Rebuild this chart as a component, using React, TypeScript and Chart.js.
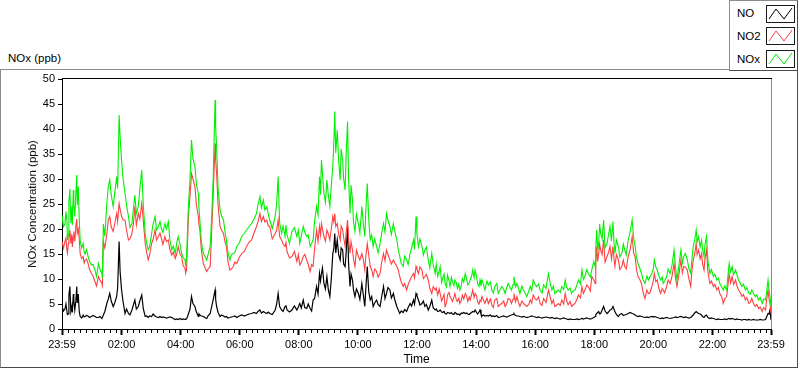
import React, { useEffect, useRef } from "react";
import { Chart, registerables } from "chart.js";

Chart.register(...registerables);

// minutes elapsed since 23:59 (start of record)
const timeMin = [
  0, 3, 6, 8, 10, 11, 13, 14, 16, 18,
  20, 21, 23, 24, 26, 28, 30, 31, 33, 35,
  37, 40, 43, 45, 47, 50, 53, 56, 60, 63,
  67, 70, 74, 77, 81, 82, 84, 87, 91, 94,
  97, 100, 104, 107, 111, 113, 116, 118, 121, 124,
  128, 131, 135, 138, 142, 145, 148, 151, 155, 158,
  162, 165, 169, 172, 175, 178, 182, 185, 189, 192,
  196, 199, 202, 205, 209, 212, 216, 219, 223, 226,
  230, 233, 236, 240, 243, 246, 250, 251, 253, 255,
  257, 260, 263, 266, 270, 273, 277,
  278, 280, 283, 287, 290, 294, 297, 301, 304, 307,
  309, 311, 312, 314, 317, 321, 324, 328, 331, 334,
  337, 341, 344, 348, 351, 355, 360, 365, 370, 375,
  380, 385, 390, 395, 398, 402, 405, 409, 412, 416,
  419, 422, 427, 433, 436, 439, 442, 446, 449, 453,
  455, 457, 462, 467, 472, 477, 480, 483, 486, 490,
  493, 497, 500, 504, 507, 510, 513, 517, 520, 523,
  525, 527, 529, 532, 535, 538, 541, 544, 547, 550,
  552, 554, 556, 559, 562, 565, 567, 570, 572, 575,
  577, 580, 582, 585, 587, 590, 592, 595, 598, 602,
  605, 609, 612, 615, 617, 620, 623, 626, 629, 632,
  635, 639, 642, 646, 649, 653, 656, 659, 662, 666,
  669, 673, 676, 680, 683, 686, 689, 693, 696, 700,
  703, 707, 710, 714, 716, 719, 721, 724, 727, 731,
  734, 737, 740, 744, 747, 751, 754, 758,
  760, 763, 766, 768, 771, 773, 776, 778, 781, 783,
  786, 788, 791, 793, 796, 798, 801, 803, 806, 808,
  811, 813, 816, 819, 822, 824, 827, 829, 832, 834,
  837, 839, 842, 844, 847, 849,
  851, 853, 856, 859, 863, 866, 870, 873, 876, 879,
  883, 886, 890, 893, 897, 900, 903, 906, 910, 913,
  916, 918, 921, 924, 927, 930, 934, 937, 941, 944,
  948, 951, 954, 957, 961, 964, 968, 971, 975, 978,
  983, 988, 992, 995, 998, 1001, 1005, 1008, 1012, 1015,
  1019, 1022, 1025, 1028, 1032, 1035, 1039, 1042, 1046, 1049,
  1053, 1056, 1059, 1062, 1066, 1069, 1073, 1076, 1080, 1083,
  1084, 1086, 1088, 1090, 1092, 1094, 1097, 1100, 1103, 1107,
  1110, 1113, 1116, 1119, 1121, 1123, 1126, 1130, 1133, 1137,
  1140, 1143, 1146, 1150,
  1154, 1158, 1161, 1164, 1167, 1170, 1173, 1177, 1180, 1184,
  1188, 1191, 1194, 1198, 1201, 1203, 1206, 1209, 1212, 1216,
  1219, 1221, 1224, 1228, 1231, 1235, 1239, 1243, 1246, 1249,
  1253, 1257, 1260, 1263, 1266, 1270, 1273, 1277, 1279, 1282,
  1285, 1288, 1290, 1293, 1296, 1299, 1301, 1304, 1306, 1309,
  1312, 1316, 1319, 1323, 1326, 1330, 1333, 1336, 1340, 1343,
  1346, 1350, 1352, 1355, 1358, 1361, 1364, 1368, 1371, 1374,
  1377, 1381, 1384, 1388, 1391, 1395, 1398, 1401, 1404, 1408,
  1411, 1415, 1418, 1422, 1425, 1429, 1431, 1434, 1436, 1438,
  1440,
];

const noxValues = [
  22.8, 20.5, 21.0, 23.5, 21.8, 17.8, 19.0, 25.5, 28.0, 21.2,
  24.5, 20.8, 27.8, 25.0, 22.5, 26.8, 30.8, 24.8, 28.5, 22.1,
  17.5, 16.2, 17.1, 15.4, 15.0, 15.9, 14.5, 13.5, 12.8, 12.9,
  11.8, 10.5, 13.1, 12.0, 11.1, 10.1, 21.0, 18.5, 25.1, 28.5,
  29.8, 26.8, 24.5, 27.1, 30.5, 28.1, 42.8, 38.5, 33.8, 30.1,
  27.1, 24.8, 22.5, 20.3, 21.1, 24.0, 26.8, 23.1, 24.5, 27.9,
  31.8, 24.9, 19.1, 17.2, 15.8, 16.5, 19.1, 21.0, 22.5, 19.8,
  20.5, 21.5, 20.1, 19.3, 21.1, 20.0, 21.5, 17.9, 15.8, 16.6,
  15.1, 17.2, 18.5, 16.8, 15.1, 14.3, 13.8, 12.5, 14.5, 19.8,
  25.1, 29.8, 37.8, 34.0, 32.5, 28.9, 27.1,
  24.5, 21.8, 17.5, 15.1, 14.6, 13.8, 15.0, 16.5, 22.5, 29.8,
  38.2, 45.8, 40.5, 36.5, 28.1, 23.8, 22.6, 21.8, 19.5, 17.8,
  15.3, 13.8, 14.9, 15.1, 15.3, 16.5, 17.2, 18.5, 19.1, 19.8,
  20.5, 21.1, 22.0, 23.1, 24.8, 26.5, 24.2, 25.8, 23.8, 24.5,
  22.9, 21.8, 20.1, 22.5, 25.1, 30.5, 21.3, 19.1, 20.6, 18.5,
  20.8, 18.8, 17.1, 19.5, 20.3, 18.5, 19.8, 17.1, 18.6, 20.5,
  19.4, 18.5, 18.8, 16.5, 17.1, 17.8, 21.5, 24.5, 22.8, 30.5,
  26.9, 33.8, 31.0, 27.1, 25.3, 29.8, 26.6, 24.5, 28.7, 32.5,
  37.0, 43.5, 35.2, 39.8, 33.5, 29.8, 36.0, 33.8, 30.1, 27.8,
  34.5, 41.5, 30.1, 23.1, 28.8, 25.8, 21.5, 19.5, 23.0, 21.1,
  19.2, 24.5, 21.0, 18.5, 23.5, 29.1, 21.9, 17.8, 18.8, 16.5,
  18.0, 16.5, 15.2, 17.1, 19.0, 21.1, 19.4, 23.1, 21.8, 20.5,
  18.9, 21.1, 19.5, 17.8, 15.9, 14.5, 13.1, 12.5, 14.6, 13.8,
  12.9, 15.1, 16.2, 17.8, 15.9, 22.5, 18.9, 16.5, 18.0, 16.5,
  14.8, 15.8, 16.4, 13.8, 12.2, 15.1, 12.8, 11.1,
  13.0, 10.5, 11.5, 12.5, 9.3, 10.1, 11.0, 9.1, 8.4, 10.8,
  9.7, 8.5, 10.3, 9.5, 8.7, 9.8, 9.2, 8.1, 9.0, 7.8,
  8.6, 10.1, 9.4, 11.1, 10.0, 8.8, 9.2, 9.8, 10.6, 11.8,
  10.3, 11.8, 10.5, 9.1, 8.5, 9.8,
  8.6, 9.8, 8.9, 7.8, 9.6, 8.8, 9.4, 7.8, 7.2, 8.5,
  9.1, 7.1, 7.9, 8.5, 8.0, 7.1, 8.2, 9.1, 8.3, 7.8,
  8.9, 10.5, 8.4, 9.1, 8.2, 7.1, 8.6, 7.8, 7.1, 6.5,
  7.6, 8.5, 7.7, 9.8, 8.9, 8.5, 9.0, 7.8, 7.2, 8.8,
  8.1, 11.1, 8.9, 7.8, 8.6, 7.1, 7.5, 7.8, 7.3, 8.5,
  7.9, 9.8, 8.4, 7.8, 8.2, 7.1, 7.7, 7.8, 8.9, 9.8,
  9.0, 11.8, 9.9, 10.5, 11.9, 11.1, 10.4, 11.8, 13.5, 12.5,
  16.0, 19.8, 15.8, 17.1, 21.0, 19.1, 18.0, 21.8, 16.2, 17.1,
  18.9, 20.5, 17.6, 21.5, 17.3, 15.1, 17.8, 16.5, 14.4, 15.1,
  17.0, 15.8, 14.8, 17.8,
  19.5, 21.8, 18.2, 16.5, 14.2, 13.1, 12.3, 11.1, 9.9, 9.1,
  10.6, 9.8, 10.4, 11.1, 12.0, 13.8, 12.4, 11.8, 10.7, 9.8,
  10.4, 9.1, 9.6, 10.5, 12.0, 11.1, 12.8, 15.8, 12.4, 9.8,
  12.8, 15.8, 13.2, 14.5, 15.1, 13.8, 12.2, 11.1, 13.5, 16.5,
  17.8, 19.8, 17.4, 18.5, 16.4, 17.8, 15.9, 14.5, 16.9, 18.5,
  13.5, 11.1, 11.9, 10.5, 10.9, 9.8, 10.2, 9.1, 8.4, 7.8,
  8.6, 7.8, 10.1, 13.1, 11.4, 12.5, 10.9, 11.8, 10.8, 9.8,
  9.3, 8.5, 9.0, 7.8, 8.3, 7.1, 7.0, 7.8, 7.2, 6.5,
  6.8, 5.8, 6.3, 5.1, 6.0, 5.8, 7.5, 9.8, 7.9, 6.5,
  4.5,
];

const no2Values = [
  17.5, 16.2, 17.5, 18.2, 15.8, 15.2, 17.1, 18.0, 19.8, 17.1,
  19.0, 16.4, 18.5, 19.5, 17.5, 20.5, 22.0, 19.2, 20.0, 18.0,
  15.0, 14.1, 14.5, 13.2, 13.8, 14.0, 13.1, 11.9, 11.1, 10.6,
  9.5, 8.6, 10.5, 9.8, 9.1, 8.7, 17.5, 16.2, 19.0, 21.8,
  22.5, 20.4, 19.5, 21.0, 23.1, 21.5, 25.1, 24.0, 22.5, 21.8,
  21.8, 19.8, 17.8, 18.0, 19.1, 21.0, 24.5, 20.8, 23.1, 22.0,
  25.1, 21.8, 17.1, 15.3, 13.8, 14.8, 17.1, 17.9, 19.8, 17.8,
  18.5, 19.2, 18.1, 16.9, 18.5, 17.5, 17.8, 15.9, 14.8, 15.4,
  14.1, 15.0, 16.5, 14.9, 14.5, 12.7, 12.1, 11.2, 11.8, 17.5,
  23.1, 26.5, 31.1, 30.0, 28.5, 24.8, 22.5,
  21.0, 19.8, 15.8, 13.1, 12.4, 11.5, 12.0, 12.5, 19.5, 26.5,
  32.0, 37.1, 34.0, 31.1, 24.9, 20.5, 19.8, 19.1, 17.5, 16.5,
  13.5, 11.8, 12.0, 12.5, 13.4, 13.1, 14.3, 15.1, 15.5, 16.5,
  17.4, 17.8, 19.2, 20.5, 21.4, 23.1, 21.5, 22.5, 21.4, 21.8,
  20.6, 20.5, 18.0, 19.1, 19.8, 21.8, 18.5, 17.8, 17.0, 16.5,
  17.3, 15.5, 14.2, 14.5, 15.5, 13.5, 14.9, 12.8, 13.3, 14.5,
  14.9, 13.8, 13.0, 11.5, 12.9, 12.5, 16.0, 19.8, 17.5, 20.5,
  18.8, 21.1, 20.0, 18.5, 17.6, 19.8, 19.0, 17.8, 20.1, 22.5,
  21.4, 23.1, 20.5, 21.1, 19.0, 17.8, 20.6, 19.8, 18.4, 16.5,
  19.2, 21.8, 18.0, 15.1, 17.5, 15.8, 14.0, 12.5, 15.8, 14.5,
  13.8, 15.1, 13.9, 11.8, 14.5, 17.1, 14.8, 12.5, 11.8, 10.5,
  12.0, 11.5, 10.4, 11.1, 13.2, 15.1, 13.6, 15.8, 14.9, 13.8,
  13.0, 13.8, 13.2, 12.5, 11.8, 10.5, 9.4, 8.5, 9.1, 7.8,
  8.9, 9.8, 10.5, 11.1, 10.2, 12.5, 11.9, 11.1, 12.4, 11.8,
  10.1, 10.5, 10.9, 9.8, 8.2, 7.1, 8.5, 7.8,
  8.2, 6.8, 8.0, 7.1, 5.6, 6.1, 6.9, 4.5, 5.2, 6.8,
  7.3, 6.5, 6.0, 5.5, 6.4, 7.1, 5.8, 5.5, 6.2, 5.1,
  5.7, 6.8, 6.0, 7.1, 6.5, 5.5, 6.4, 5.8, 6.9, 7.8,
  6.3, 7.1, 6.6, 5.5, 5.0, 5.8,
  5.5, 6.5, 5.8, 5.1, 6.2, 5.1, 6.0, 4.8, 4.3, 5.8,
  6.1, 4.5, 4.9, 5.1, 5.6, 4.5, 5.0, 6.1, 5.9, 5.1,
  6.0, 7.1, 5.4, 6.5, 5.3, 4.5, 5.6, 5.1, 4.8, 4.5,
  4.9, 5.8, 5.2, 6.8, 6.0, 5.8, 6.4, 5.1, 4.7, 6.1,
  5.3, 7.8, 6.2, 5.1, 5.8, 4.5, 4.8, 5.1, 4.7, 5.8,
  5.0, 7.1, 5.7, 4.8, 5.5, 4.5, 4.9, 5.1, 6.0, 6.8,
  6.2, 8.5, 7.1, 7.8, 8.8, 8.5, 7.6, 10.5, 9.8, 9.1,
  13.0, 16.5, 13.5, 15.1, 17.0, 15.8, 14.9, 17.8, 13.4, 14.5,
  15.3, 16.5, 14.0, 16.5, 14.1, 12.5, 14.9, 13.8, 11.9, 12.5,
  13.8, 12.5, 12.0, 14.5,
  15.9, 18.5, 15.2, 14.5, 11.8, 10.5, 10.0, 9.1, 7.4, 6.1,
  7.8, 7.1, 7.2, 8.5, 9.6, 11.1, 9.5, 9.8, 8.2, 7.1,
  8.1, 7.8, 7.2, 8.5, 9.8, 9.1, 10.5, 13.1, 10.2, 8.5,
  10.9, 13.8, 11.2, 12.5, 12.4, 11.8, 10.1, 8.5, 11.2, 13.8,
  15.0, 17.1, 14.9, 15.8, 14.0, 15.1, 13.0, 11.8, 14.2, 15.8,
  11.3, 9.1, 9.6, 8.5, 8.9, 7.8, 8.3, 7.1, 6.4, 5.1,
  6.0, 6.5, 8.2, 11.1, 9.2, 10.5, 8.9, 9.8, 8.6, 7.8,
  7.4, 6.5, 6.9, 5.8, 6.3, 5.1, 5.3, 6.1, 5.2, 4.5,
  4.9, 4.1, 4.4, 3.5, 4.3, 3.8, 5.8, 7.8, 6.0, 5.1,
  3.1,
];

const noValues = [
  4.5, 3.6, 4.0, 5.0, 3.5, 2.9, 3.0, 6.8, 8.5, 3.5,
  4.5, 3.3, 7.0, 5.8, 3.8, 5.5, 8.5, 5.2, 7.0, 3.5,
  2.5, 2.2, 2.8, 2.4, 2.5, 2.7, 2.6, 2.3, 2.5, 2.7,
  2.5, 2.3, 2.3, 2.5, 2.1, 2.3, 2.8, 3.5, 5.1, 6.0,
  7.1, 5.6, 4.5, 5.2, 6.5, 8.2, 17.5, 11.5, 7.8, 5.5,
  3.1, 4.0, 3.1, 2.8, 3.8, 4.8, 5.8, 4.0, 4.5, 5.6,
  6.8, 4.1, 2.5, 2.6, 2.3, 2.6, 2.5, 3.0, 2.6, 2.4,
  2.3, 2.5, 2.3, 2.4, 2.3, 2.2, 2.3, 2.4, 2.3, 2.1,
  1.9, 2.0, 1.9, 2.1, 1.9, 2.0, 1.9, 2.0, 2.0, 2.5,
  3.1, 4.0, 6.5, 5.1, 4.5, 3.4, 2.5,
  3.0, 2.8, 2.6, 2.5, 2.3, 2.1, 2.7, 3.1, 4.5, 5.8,
  6.9, 7.8, 6.0, 4.5, 3.3, 2.5, 2.8, 2.6, 2.4, 2.5,
  2.2, 2.3, 2.4, 2.5, 2.6, 2.3, 2.6, 2.8, 2.6, 2.8,
  3.0, 3.1, 3.3, 3.1, 3.5, 3.8, 3.2, 3.5, 3.3, 3.1,
  3.4, 3.1, 2.9, 3.8, 5.0, 7.1, 4.5, 3.8, 3.5, 4.5,
  4.6, 3.8, 3.4, 3.8, 4.6, 3.8, 4.4, 5.1, 4.2, 5.8,
  4.3, 4.1, 5.0, 4.1, 3.6, 5.8, 6.1, 8.5, 7.0, 11.1,
  9.6, 11.1, 12.2, 9.1, 8.0, 10.5, 7.8, 6.5, 10.1, 15.1,
  16.0, 19.1, 15.2, 17.8, 14.8, 13.8, 16.2, 15.8, 13.0, 12.5,
  15.1, 20.5, 13.2, 8.5, 11.0, 9.8, 7.8, 6.5, 8.0, 7.1,
  5.9, 9.1, 6.8, 4.5, 8.0, 12.5, 7.5, 5.8, 6.5, 4.5,
  5.2, 5.8, 4.9, 4.5, 6.3, 8.5, 6.1, 7.1, 8.3, 7.8,
  6.2, 7.1, 5.8, 4.5, 3.8, 3.1, 3.6, 3.3, 3.9, 3.5,
  4.3, 5.1, 4.6, 5.8, 5.0, 7.1, 6.6, 5.8, 4.8, 5.1,
  5.6, 4.5, 4.9, 3.8, 4.5, 5.8, 4.2, 3.8,
  4.0, 3.5, 3.6, 3.8, 3.4, 3.3, 3.5, 3.1, 3.0, 3.3,
  3.2, 3.1, 3.3, 3.0, 2.9, 3.3, 3.1, 2.9, 3.0, 2.8,
  3.2, 3.1, 3.3, 3.1, 3.2, 3.0, 2.9, 3.1, 3.3, 3.5,
  3.4, 3.8, 3.3, 3.0, 3.4, 3.8,
  3.0, 2.6, 2.8, 2.6, 2.7, 2.6, 2.8, 2.5, 2.6, 2.5,
  2.7, 2.3, 2.4, 2.5, 2.6, 2.5, 2.4, 2.5, 2.7, 2.8,
  2.9, 3.1, 2.7, 2.6, 2.6, 2.5, 2.4, 2.5, 2.4, 2.3,
  2.4, 2.5, 2.6, 2.5, 2.4, 2.3, 2.4, 2.3, 2.2, 2.3,
  2.4, 2.3, 2.2, 2.3, 2.2, 2.1, 2.2, 2.1, 2.0, 2.1,
  2.2, 2.1, 2.0, 1.9, 2.0, 1.9, 1.9, 1.9, 2.0, 1.9,
  2.0, 2.1, 2.0, 2.1, 2.2, 2.1, 2.0, 2.1, 2.3, 2.5,
  2.8, 3.1, 3.3, 3.5, 3.0, 3.1, 3.8, 4.5, 3.6, 3.1,
  3.4, 3.8, 3.9, 4.5, 4.0, 3.5, 2.9, 2.5, 2.9, 3.1,
  2.7, 2.8, 2.9, 3.1,
  3.3, 3.1, 3.0, 2.8, 2.6, 2.5, 2.6, 2.5, 2.4, 2.3,
  2.4, 2.3, 2.4, 2.5, 2.4, 2.5, 2.4, 2.3, 2.2, 2.1,
  2.2, 2.1, 2.2, 2.3, 2.2, 2.1, 2.2, 2.3, 2.4, 2.3,
  2.4, 2.5, 2.4, 2.3, 2.4, 2.3, 2.2, 2.3, 2.5, 2.8,
  3.2, 3.5, 3.3, 3.1, 3.0, 2.8, 2.5, 2.3, 2.6, 2.8,
  2.3, 2.1, 2.2, 2.1, 2.0, 1.9, 2.0, 1.9, 1.9, 1.9,
  2.0, 1.9, 2.0, 2.1, 2.0, 2.1, 2.0, 1.9, 2.0, 1.9,
  1.9, 1.8, 1.9, 1.9, 1.8, 1.9, 1.8, 1.8, 1.9, 1.8,
  1.8, 1.8, 1.9, 1.8, 1.8, 1.9, 2.4, 3.1, 3.0, 3.8,
  1.8,
];

const timeTickLabels = ["23:59", "02:00", "04:00", "06:00", "08:00", "10:00", "12:00", "14:00", "16:00", "18:00", "20:00", "22:00", "23:59"];
const yTickValues = [0, 5, 10, 15, 20, 25, 30, 35, 40, 45, 50];

const FONT = '"Liberation Sans", Arial, sans-serif';
const GREEN = "#00f000";
const RED = "#ff4040";

// position of each time label in minutes after 23:59
const tickPositions = timeTickLabels.map((lab, i) => {
  if (i === 0) return 0;
  if (i === timeTickLabels.length - 1) return 1440;
  const [h, m] = lab.split(":").map(Number);
  return h * 60 + m + 1;
});

const framePlugin = {
  id: "labviewFrame",
  afterDraw(chart: any) {
    const { ctx, chartArea } = chart;
    const { left, right, top, bottom } = chartArea;
    const xs = chart.scales.x;
    ctx.save();
    ctx.lineWidth = 1;
    ctx.strokeStyle = "#000";
    ctx.beginPath();
    ctx.moveTo(left, Math.round(top) - 0.5);
    ctx.lineTo(right + 1, Math.round(top) - 0.5);
    ctx.stroke();
    ctx.strokeStyle = "#8a8a8a";
    ctx.beginPath();
    ctx.moveTo(Math.round(right) + 0.5, top);
    ctx.lineTo(Math.round(right) + 0.5, bottom);
    ctx.stroke();
    ctx.strokeStyle = "#000";
    ctx.beginPath();
    for (let k = -10; k <= 120; k++) {
      if (k % 10 === 0) continue;
      const v = 121 + 12 * k;
      if (v <= 0 || v >= 1440) continue;
      const px = Math.round(xs.getPixelForValue(v)) + 0.5;
      ctx.moveTo(px, bottom);
      ctx.lineTo(px, bottom + 4);
    }
    ctx.stroke();
    ctx.restore();
  },
};

function Swatch({ color, top }: { color: string; top: number }) {
  return (
    <div
      style={{
        position: "absolute",
        left: 766,
        top,
        width: 29,
        height: 18,
        boxSizing: "border-box",
        border: "1px solid #1a1a1a",
        background: "#fff",
      }}
    >
      <svg width={27} height={16} style={{ display: "block" }}>
        <polyline points="2,13 9,3 17,13 25,2" fill="none" stroke={color} strokeWidth={1} />
      </svg>
    </div>
  );
}

export default function App() {
  const canvasRef = useRef<HTMLCanvasElement | null>(null);

  useEffect(() => {
    if (!canvasRef.current) return;
    Chart.defaults.font.family = FONT;
    Chart.defaults.font.size = 11;
    Chart.defaults.color = "#000";

    const mk = (vals: number[]) => timeMin.map((t, i) => ({ x: t, y: vals[i] }));

    const chart = new Chart(canvasRef.current, {
      type: "line",
      data: {
        datasets: [
          { label: "NOx", data: mk(noxValues), borderColor: GREEN, borderWidth: 1.1, pointRadius: 0, tension: 0 },
          { label: "NO2", data: mk(no2Values), borderColor: RED, borderWidth: 1.1, pointRadius: 0, tension: 0 },
          { label: "NO", data: mk(noValues), borderColor: "#000000", borderWidth: 1.2, pointRadius: 0, tension: 0 },
        ],
      },
      options: {
        responsive: false,
        animation: false,
        events: [],
        layout: { padding: { left: 0, top: 79, right: 29, bottom: 0 } },
        plugins: { legend: { display: false }, tooltip: { enabled: false } },
        scales: {
          x: {
            type: "linear",
            min: 0,
            max: 1440,
            afterBuildTicks: (s: any) => {
              s.ticks = tickPositions.map((v) => ({ value: v }));
            },
            afterFit: (s: any) => {
              s.height = 40;
            },
            ticks: {
              autoSkip: false,
              maxRotation: 0,
              minRotation: 0,
              padding: 3,
              color: "#000",
              font: { size: 11 },
              callback: (v: any) => {
                const i = tickPositions.indexOf(Number(v));
                return i >= 0 ? timeTickLabels[i] : "";
              },
            },
            grid: { drawOnChartArea: false, tickLength: 6, tickWidth: 2, tickColor: "#000" },
            border: { color: "#000", width: 1 },
            title: { display: true, text: "Time", color: "#000", font: { size: 12 }, padding: { top: 0, bottom: 2 } },
          },
          y: {
            type: "linear",
            min: 0,
            max: 50,
            afterBuildTicks: (s: any) => {
              s.ticks = yTickValues.map((v) => ({ value: v }));
            },
            afterFit: (s: any) => {
              s.width = 62;
            },
            ticks: { padding: 3, color: "#000", font: { size: 11 } },
            grid: { drawOnChartArea: false, tickLength: 4, tickWidth: 1, tickColor: "#000" },
            border: { color: "#000", width: 1 },
            title: {
              display: true,
              text: "NOx Concentration (ppb)",
              color: "#111",
              font: { size: 11.5 },
              padding: { top: 26, bottom: 0 },
            },
          },
        },
      },
      plugins: [framePlugin],
    });
    return () => chart.destroy();
  }, []);

  const textStyle: React.CSSProperties = {
    position: "absolute",
    fontFamily: FONT,
    fontSize: "11.5px",
    lineHeight: "14px",
    color: "#000",
    whiteSpace: "nowrap",
  };

  return (
    <div style={{ position: "fixed", left: 0, top: 0, width: 800, height: 369, background: "#fff", overflow: "hidden" }}>
      <div style={{ ...textStyle, left: 8, top: 51 }}>NOx (ppb)</div>
      <div
        style={{
          position: "absolute",
          left: 0,
          top: 69,
          width: 798,
          height: 299,
          boxSizing: "border-box",
          borderTop: "1px solid #8c8c8c",
          borderLeft: "1px solid #8c8c8c",
          borderRight: "1px solid #4a4a4a",
          borderBottom: "1px solid #4a4a4a",
        }}
      />
      <canvas ref={canvasRef} width={800} height={369} style={{ position: "absolute", left: 0, top: 0, width: 800, height: 369 }} />
      <div
        style={{
          position: "absolute",
          left: 729,
          top: 0,
          width: 69,
          height: 71,
          boxSizing: "border-box",
          borderLeft: "1px solid #8c8c8c",
          borderTop: "1px solid #8c8c8c",
          borderRight: "1px solid #4a4a4a",
          borderBottom: "1px solid #4a4a4a",
          background: "#fff",
        }}
      />
      <div style={{ ...textStyle, left: 737, top: 6 }}>NO</div>
      <div style={{ ...textStyle, left: 737, top: 29 }}>NO2</div>
      <div style={{ ...textStyle, left: 737, top: 52 }}>NOx</div>
      <Swatch color="#000" top={5} />
      <Swatch color={RED} top={27} />
      <Swatch color={GREEN} top={50} />
    </div>
  );
}
